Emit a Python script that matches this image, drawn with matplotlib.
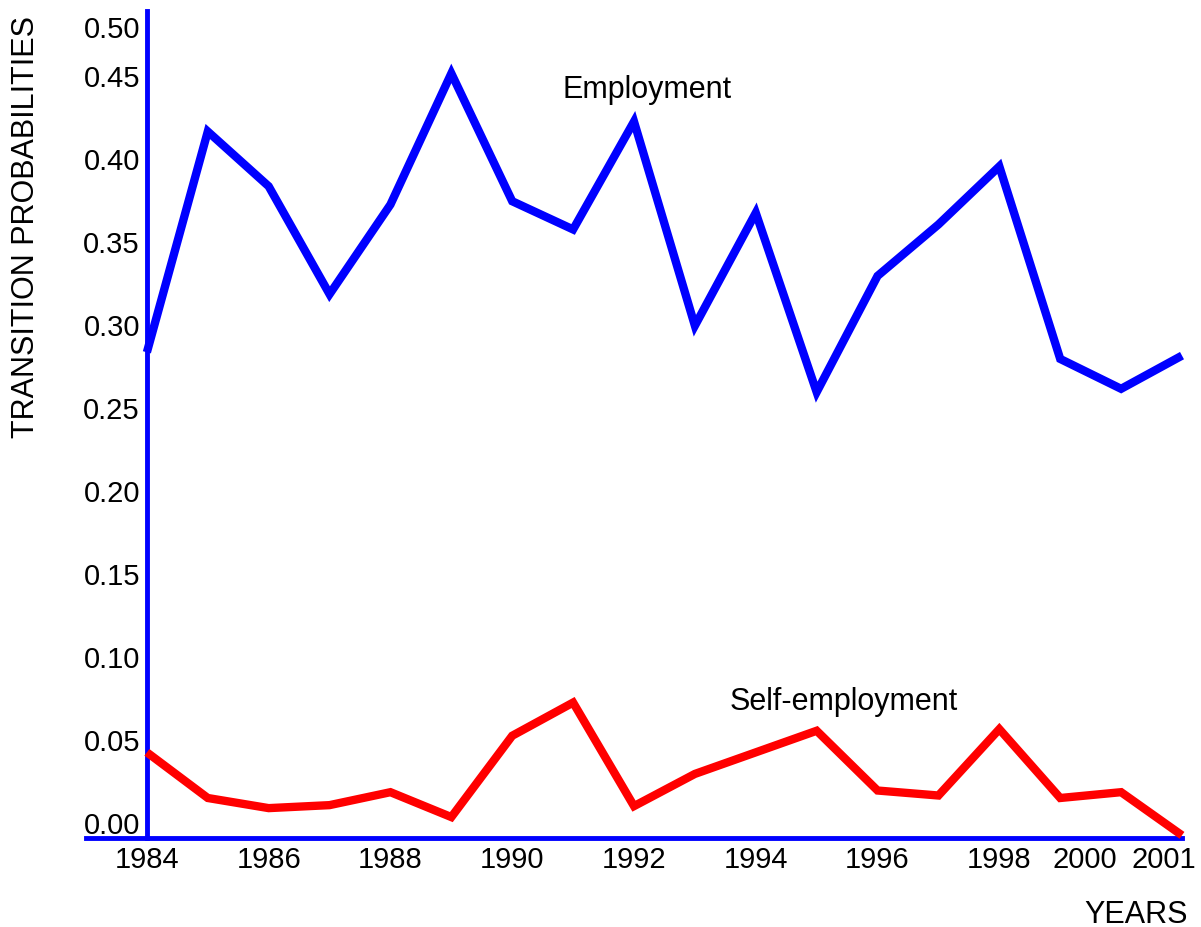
import matplotlib
matplotlib.use("Agg")
import matplotlib.pyplot as plt

plt.rcParams["font.family"] = ["Liberation Sans", "DejaVu Sans"]

years = list(range(1984, 2002))
employment = [0.283, 0.416, 0.383, 0.318, 0.372, 0.451, 0.374, 0.357, 0.422,
              0.299, 0.367, 0.259, 0.329, 0.360, 0.395, 0.279, 0.261, 0.281]
self_employment = [0.042, 0.0145, 0.0084, 0.0102, 0.018, 0.003, 0.052, 0.072, 0.0096,
                   0.029, 0.042, 0.055, 0.019, 0.016, 0.056, 0.0145, 0.018, -0.008]

xtick_labels = ["1984", "1986", "1988", "1990", "1992", "1994", "1996", "1998", "2000", "2001"]
ytick_labels = ["0.00", "0.05", "0.10", "0.15", "0.20", "0.25", "0.30", "0.35", "0.40", "0.45", "0.50"]

# tick spots as drawn in the original (last two x labels and top y label are squeezed)
xtick_pos = [1984, 1986, 1988, 1990, 1992, 1994, 1996, 1998, 1999.4, 2000.7]
ytick_pos = [0.0, 0.05, 0.10, 0.15, 0.20, 0.25, 0.30, 0.35, 0.40, 0.45, 0.4795]

fig = plt.figure(figsize=(12.01, 9.28), dpi=100)
ax = fig.add_axes([86 / 1201, 1 - 839 / 928, 1096 / 1201, 827 / 928])

ax.plot(years, employment, color="#0000ff", lw=6, solid_joinstyle="miter",
        solid_capstyle="butt", clip_on=False, zorder=3)
ax.plot(years, self_employment, color="#ff0000", lw=6, solid_joinstyle="miter",
        solid_capstyle="butt", clip_on=False, zorder=3)

ax.set_xlim(1983, 2001)
ax.set_ylim(-0.0096, 0.4886)

for side in ["top", "right"]:
    ax.spines[side].set_visible(False)
ax.spines["left"].set_position(("data", 1984))
for side in ["left", "bottom"]:
    ax.spines[side].set_color("#0000ff")
    ax.spines[side].set_linewidth(3.5)

ax.set_xticks(xtick_pos)
ax.set_xticklabels(xtick_labels)
ax.set_yticks(ytick_pos)
ax.set_yticklabels(ytick_labels)
ax.tick_params(axis="both", length=0, labelsize=21)
ax.tick_params(axis="x", pad=5)
ax.tick_params(axis="y", pad=5)

ax.set_ylabel("TRANSITION PROBABILITIES", fontsize=22)
ax.yaxis.set_label_coords(-0.041, 0.74)
ax.set_xlabel("YEARS", fontsize=22)
ax.xaxis.set_label_coords(0.958, -0.074)

ax.text(1990.83, 0.437, "Employment", fontsize=22, ha="left", va="baseline")
ax.text(1993.57, 0.068, "Self-employment", fontsize=22, ha="left", va="baseline")

fig.savefig("out.png", dpi=100)
